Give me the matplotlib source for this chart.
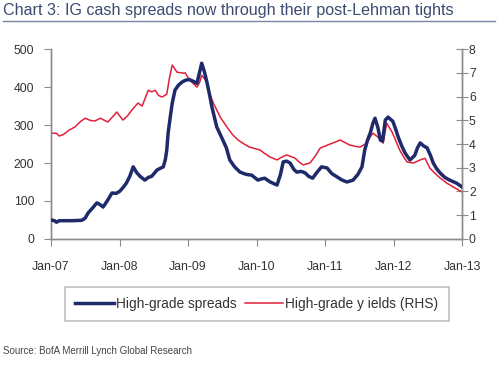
import matplotlib
matplotlib.use("Agg")
from matplotlib import pyplot as plt
from matplotlib.lines import Line2D

# data (x in decimal years)
spread_x = [2007.00, 2007.05, 2007.08, 2007.12, 2007.30, 2007.45, 2007.50, 2007.54, 2007.60, 2007.67,
            2007.72, 2007.76, 2007.82, 2007.89, 2007.95, 2008.00, 2008.05, 2008.10, 2008.15, 2008.20,
            2008.25, 2008.30, 2008.37, 2008.42, 2008.47, 2008.55, 2008.64, 2008.67, 2008.69, 2008.71,
            2008.74, 2008.77, 2008.81, 2008.86, 2008.91, 2008.96, 2009.02, 2009.08, 2009.13, 2009.17,
            2009.20, 2009.24, 2009.28, 2009.32, 2009.35, 2009.42, 2009.51, 2009.56, 2009.61, 2009.68,
            2009.76, 2009.85, 2009.93, 2010.02, 2010.07, 2010.12, 2010.20, 2010.30, 2010.35, 2010.39,
            2010.44, 2010.49, 2010.55, 2010.59, 2010.65, 2010.71, 2010.76, 2010.82, 2010.88, 2010.95,
            2011.03, 2011.10, 2011.18, 2011.25, 2011.32, 2011.41, 2011.48, 2011.54, 2011.58, 2011.62,
            2011.66, 2011.70, 2011.73, 2011.77, 2011.81, 2011.84, 2011.88, 2011.92, 2011.99, 2012.03,
            2012.07, 2012.12, 2012.17, 2012.24, 2012.31, 2012.35, 2012.39, 2012.44, 2012.49, 2012.54,
            2012.58, 2012.63, 2012.68, 2012.75, 2012.82, 2012.92, 2013.00]
spread_y = [50, 48, 44, 48, 48, 49, 55, 68, 80, 95,
            90, 84, 100, 121, 120, 125, 135, 147, 165, 190,
            175, 165, 155, 162, 165, 182, 190, 210, 234, 279,
            320, 358, 392, 405, 413, 418, 420, 415, 410, 440,
            463, 440, 410, 375, 347, 295, 260, 240, 208, 190,
            176, 170, 168, 155, 158, 160, 150, 142, 170, 203,
            205, 200, 182, 176, 178, 174, 165, 160, 175, 190,
            187, 172, 163, 155, 150, 155, 170, 190, 234, 260,
            279, 305, 318, 295, 260, 258, 313, 321, 310, 290,
            268, 245, 226, 208, 220, 240, 253, 245, 240, 220,
            200, 185, 174, 162, 155, 147, 137]

yield_x = [2007.00, 2007.08, 2007.12, 2007.18, 2007.27, 2007.35, 2007.43, 2007.50, 2007.57, 2007.64,
           2007.72, 2007.78, 2007.83, 2007.90, 2007.96, 2008.05, 2008.12, 2008.18, 2008.27, 2008.33,
           2008.42, 2008.47, 2008.52, 2008.57, 2008.62, 2008.69, 2008.73, 2008.77, 2008.84, 2008.93,
           2008.96, 2009.01, 2009.06, 2009.13, 2009.17, 2009.20, 2009.28, 2009.32, 2009.37, 2009.47,
           2009.58, 2009.65, 2009.73, 2009.82, 2009.90, 2010.05, 2010.12, 2010.20, 2010.30, 2010.37,
           2010.44, 2010.56, 2010.62, 2010.68, 2010.78, 2010.86, 2010.93, 2011.04, 2011.12, 2011.22,
           2011.30, 2011.36, 2011.45, 2011.51, 2011.61, 2011.66, 2011.70, 2011.77, 2011.85, 2011.90,
           2011.98, 2012.04, 2012.09, 2012.15, 2012.20, 2012.29, 2012.39, 2012.46, 2012.53, 2012.60,
           2012.68, 2012.78, 2012.87, 2012.94, 2013.00]
yield_y = [4.46, 4.45, 4.34, 4.40, 4.60, 4.72, 4.95, 5.09, 5.00, 4.97,
           5.09, 5.00, 4.93, 5.15, 5.35, 5.01, 5.20, 5.43, 5.73, 5.60,
           6.27, 6.20, 6.27, 6.05, 5.98, 6.10, 6.80, 7.33, 7.03, 6.99,
           7.00, 6.75, 6.60, 6.40, 6.60, 6.90, 6.60, 6.10, 5.73, 5.14,
           4.67, 4.40, 4.17, 4.00, 3.87, 3.75, 3.60, 3.45, 3.33, 3.45,
           3.54, 3.41, 3.25, 3.12, 3.20, 3.50, 3.83, 3.96, 4.05, 4.17,
           4.05, 3.96, 3.90, 3.87, 4.04, 4.30, 4.46, 4.30, 4.04, 4.88,
           4.50, 4.10, 3.75, 3.45, 3.24, 3.20, 3.33, 3.40, 2.99, 2.78,
           2.57, 2.35, 2.19, 2.08, 1.98]

tick_years = [2007, 2008, 2009, 2010, 2011, 2012, 2013]
tick_labels = ["Jan-07", "Jan-08", "Jan-09", "Jan-10", "Jan-11", "Jan-12", "Jan-13"]

navy = "#1f2a6b"
red = "#e2203c"
axis_grey = "#8c8c8c"
txt = "#333333"

plt.rcParams["font.family"] = ["Liberation Sans", "DejaVu Sans"]

fig = plt.figure(figsize=(5, 3.67), dpi=100)
ax = fig.add_axes([0.102, 0.349, 0.822, 0.517])
ax2 = ax.twinx()

ax.plot(spread_x, spread_y, color=navy, lw=2.5, zorder=3)
ax2.plot(yield_x, yield_y, color=red, lw=1.1)
ax.set_zorder(ax2.get_zorder() + 1)
ax.patch.set_visible(False)

ax.set_xlim(2007, 2013)
ax.set_ylim(0, 500)
ax2.set_ylim(0, 8)
ax.set_yticks(range(0, 501, 100))
ax2.set_yticks(range(0, 9))
ax.set_xticks(tick_years)
ax.set_xticklabels(tick_labels)

for a in (ax, ax2):
    a.spines["top"].set_visible(False)
    for s in ("left", "right", "bottom"):
        a.spines[s].set_color(axis_grey)
        a.spines[s].set_linewidth(1.0)
ax.tick_params(axis="y", direction="out", length=5, color=axis_grey, labelsize=8.8, labelcolor=txt, pad=7)
ax.tick_params(axis="x", direction="out", length=5, color=axis_grey, labelsize=8.8, labelcolor=txt, pad=11)
ax2.tick_params(axis="y", direction="inout", length=9, color=axis_grey, labelsize=8.8, labelcolor=txt, pad=0.5)

# legend under the plot
handles = [Line2D([], [], color=navy, lw=2.5), Line2D([], [], color=red, lw=1.1)]
leg = fig.legend(handles, ["High-grade spreads", "High-grade y ields (RHS)"],
                 loc="center", bbox_to_anchor=(0.514, 0.172), ncol=2, fontsize=9.9,
                 frameon=True, fancybox=False, handlelength=2.8, handletextpad=0.15,
                 columnspacing=0.6, borderpad=0.75, borderaxespad=0)
leg.get_frame().set_edgecolor("#b0b0b0")
leg.get_frame().set_linewidth(1.2)
for t in leg.get_texts():
    t.set_color(txt)

fig.text(0.006, 0.972, "Chart 3: IG cash spreads now through their post-Lehman tights",
         fontsize=11.6, color="#3b4a6e", ha="left", va="center")
fig.add_artist(Line2D([0.006, 0.99], [0.943, 0.943], color="#7a86a3", lw=1.0))
fig.text(0.006, 0.043, "Source: BofA Merrill Lynch Global Research", fontsize=7.0,
         color="#444444", ha="left", va="center")

fig.savefig("out.png", dpi=100)
